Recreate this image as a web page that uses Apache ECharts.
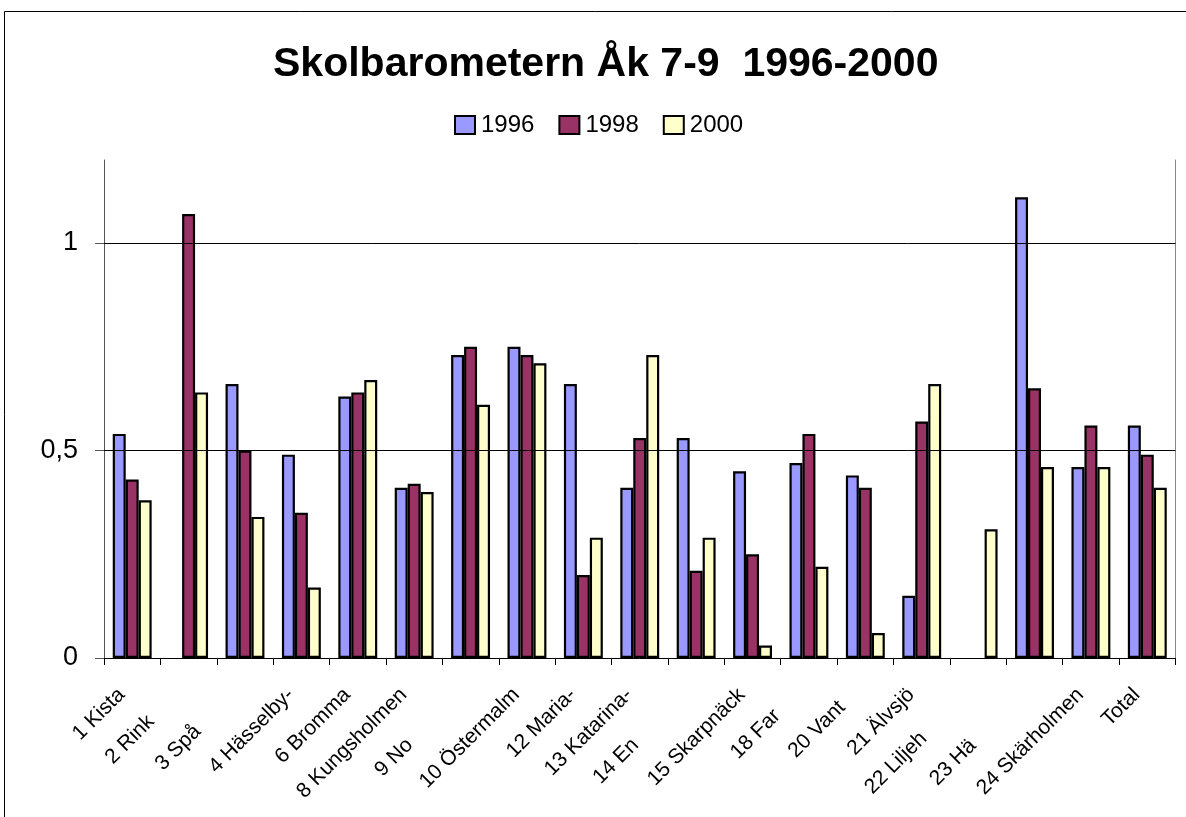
<!DOCTYPE html>
<html>
<head>
<meta charset="utf-8">
<script src="https://cdn.jsdelivr.net/npm/echarts@6/dist/echarts.min.js"></script>
<style>
  html, body { margin: 0; padding: 0; background: #fff; }
  #chart { width: 1186px; height: 817px; }
</style>
</head>
<body>
<div id="chart"></div>
<script>
// data
const categories = ['1 Kista', '2 Rink', '3 Spå', '4 Hässelby-', '6 Bromma', '8 Kungsholmen', '9 No',
  '10 Östermalm', '12 Maria-', '13 Katarina-', '14 En', '15 Skarpnäck', '18 Far', '20 Vant',
  '21 Älvsjö', '22 Liljeh', '23 Hä', '24 Skärholmen', 'Total']
const y1996 = [0.54, null, 0.66, 0.49, 0.63, 0.41, 0.73, 0.75, 0.66, 0.41, 0.53, 0.45, 0.47, 0.44, 0.15, null, 1.11, 0.46, 0.56]
const y1998 = [0.43, 1.07, 0.50, 0.35, 0.64, 0.42, 0.75, 0.73, 0.20, 0.53, 0.21, 0.25, 0.54, 0.41, 0.57, null, 0.65, 0.56, 0.49]
const y2000 = [0.38, 0.64, 0.34, 0.17, 0.67, 0.40, 0.61, 0.71, 0.29, 0.73, 0.29, 0.03, 0.22, 0.06, 0.66, 0.31, 0.46, 0.46, 0.41]
const gridValues = [0.5, 1]

// the truncated labels sit lower, where the cut-off text would have ended
const labelCut = [0, 38, 52, 0, 0, 0, 71, 0, 0, 0, 71, 0, 30, 18, 0, 62, 72, 0, 0]

const font = '"Liberation Sans", Arial, sans-serif'
const rich = {}
labelCut.forEach((p, i) => {
  rich['c' + i] = {fontSize: 21, fontFamily: font, color: '#000', padding: [0, p + 15, 0, 0]}
})

const bar = (name, data, color) => ({
  name,
  type: 'bar',
  data,
  barGap: '0%',
  barCategoryGap: '31%',
  itemStyle: {color, borderColor: '#000', borderWidth: 2.2},
  emphasis: {disabled: true}
})

const series = [
  bar('1996', y1996, '#9999ff'),
  bar('1998', y1998, '#993366'),
  bar('2000', y2000, '#ffffcc')
]
series[0].markLine = {
  silent: true,
  symbol: 'none',
  label: {show: false},
  lineStyle: {color: '#000', width: 1, type: 'solid'},
  data: gridValues.map(v => ({yAxis: v}))
}

const chart = echarts.init(document.getElementById('chart'), null, {renderer: 'canvas'})
chart.setOption({
  animation: false,
  backgroundColor: '#fff',
  title: {
    text: 'Skolbarometern Åk 7-9  1996-2000',
    left: 268,
    top: 39,
    textStyle: {fontFamily: font, fontSize: 41, fontWeight: 'bold', color: '#000'}
  },
  legend: {
    data: ['1996', '1998', '2000'],
    left: 449,
    top: 108,
    icon: 'rect',
    itemWidth: 20,
    itemHeight: 18,
    itemGap: 24,
    textStyle: {fontFamily: font, fontSize: 24, color: '#000', padding: [0, 0, 0, 1]}
  },
  grid: {left: 104, right: 10.5, top: 160, bottom: 159},
  xAxis: {
    type: 'category',
    data: categories,
    axisLine: {lineStyle: {color: '#000', width: 1}},
    axisTick: {show: true, alignWithLabel: false, length: 7, lineStyle: {color: '#000'}},
    axisLabel: {
      interval: 0,
      rotate: 45,
      margin: 23,
      fontFamily: font,
      fontSize: 21,
      color: '#000',
      formatter: (v, i) => '{c' + i + '|' + v + '}',
      rich
    }
  },
  yAxis: [{
    type: 'value',
    min: 0,
    max: 1.2,
    interval: 0.5,
    axisLine: {show: true, lineStyle: {color: '#555', width: 1}},
    axisTick: {show: true, length: 9, lineStyle: {color: '#555'}},
    splitLine: {show: false},
    axisLabel: {
      margin: 26,
      showMaxLabel: false,
      fontFamily: font,
      fontSize: 27,
      color: '#000',
      formatter: v => (v === 1.2 ? '' : String(v).replace('.', ','))
    }
  }, {
    type: 'value',
    position: 'right',
    min: 0,
    max: 1.2,
    interval: 0.5,
    axisLine: {show: true, lineStyle: {color: '#888', width: 1}},
    axisTick: {show: false},
    axisLabel: {show: false},
    splitLine: {show: false}
  }],
  graphic: [{
    type: 'rect',
    shape: {x: 4.5, y: 11.5, width: 1300, height: 900},
    style: {fill: 'none', stroke: '#000', lineWidth: 1},
    silent: true
  }],
  series
})
</script>
</body>
</html>
